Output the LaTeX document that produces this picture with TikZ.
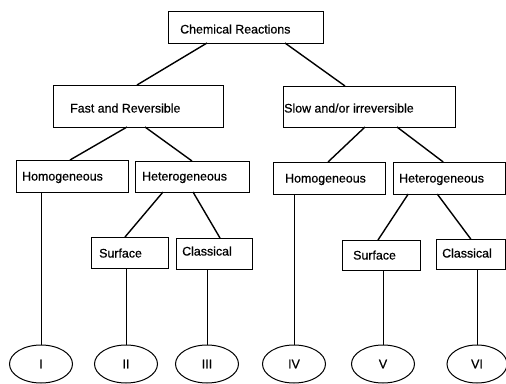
\documentclass[tikz,border=0pt]{standalone}
\usepackage{fontspec}
\setmainfont{Liberation Sans}[FakeBold=0.6]
\usetikzlibrary{shapes.geometric}
\begin{document}
\begin{tikzpicture}[x=1pt,y=-1pt,
  font=\fontsize{12.4}{14}\selectfont,
  boxn/.style={draw, line width=1pt, rectangle, inner sep=0pt, outer sep=0pt},
  lbl/.style={anchor=base west, inner sep=0pt},
  ell/.style={draw, line width=1pt, ellipse, inner sep=0pt, outer sep=0pt, minimum width=63pt, minimum height=38pt},
  conn/.style={line width=1.4pt},
  vline/.style={line width=1pt}]
\useasboundingbox (0,0) rectangle (506,383);
% boxes
\node[boxn, minimum width=155pt, minimum height=32pt] (chem) at (245.5,27) {};
\node[boxn, minimum width=170pt, minimum height=42pt] (fast) at (138,106) {};
\node[boxn, minimum width=172pt, minimum height=41pt] (slow) at (369,106.5) {};
\node[boxn, minimum width=112pt, minimum height=32pt] (homL) at (72,176) {};
\node[boxn, minimum width=114pt, minimum height=31pt] (hetL) at (192,176.5) {};
\node[boxn, minimum width=112pt, minimum height=32pt] (homR) at (329,178) {};
\node[boxn, minimum width=112.5pt, minimum height=32pt] (hetR) at (449.25,178) {};
\node[boxn, minimum width=77pt, minimum height=31pt] (surfL) at (129.5,252.5) {};
\node[boxn, minimum width=76pt, minimum height=31pt] (clasL) at (214,253.5) {};
\node[boxn, minimum width=78pt, minimum height=30pt] (surfR) at (381,255) {};
\node[boxn, minimum width=69.5pt, minimum height=30pt] (clasR) at (470.75,254) {};
% labels
\node[lbl] (tchem) at (180,33.5) {Chemical Reactions};
\node[lbl] (tfast) at (70,112.5) {Fast and Reversible};
\node[lbl] (tslow) at (284,112.5) {Slow and/or irreversible};
\node[lbl] (thomL) at (22,180.5) {Homogeneous};
\node[lbl] (thetL) at (142,180.5) {Heterogeneous};
\node[lbl] (thomR) at (285,182.5) {Homogeneous};
\node[lbl] (thetR) at (399,182.5) {Heterogeneous};
\node[lbl] (tsurfL) at (99,257.5) {Surface};
\node[lbl] (tclasL) at (182,255.5) {Classical};
\node[lbl] (tsurfR) at (353,259.5) {Surface};
\node[lbl] (tclasR) at (442,257.5) {Classical};
% ellipses
\node[ell] (e1) at (41,364) {I};
\node[ell] (e2) at (126,364) {II};
\node[ell] (e3) at (207,364) {III};
\node[ell] (e4) at (294,364) {IV};
\node[ell] (e5) at (383,364) {V};
\node[ell, minimum width=60pt] (e6) at (477,364) {VI};
% connectors
\draw[conn] ([xshift=-38.5pt]chem.south) -- ([xshift=-1pt]fast.north);
\draw[conn] ([xshift=39.5pt]chem.south) -- ([xshift=-24pt]slow.north);
\draw[conn] ([xshift=-11pt]fast.south) -- ([xshift=-2pt]homL.north);
\draw[conn] ([xshift=7pt]fast.south) -- (hetL.north);
\draw[conn] ([xshift=-4pt]slow.south) -- ([xshift=-1pt]homR.north);
\draw[conn] ([xshift=28pt]slow.south) -- ([xshift=-6pt]hetR.north);
\draw[conn] ([xshift=-29pt]hetL.south) -- ([xshift=-4.5pt]surfL.north);
\draw[conn] ([xshift=1pt]hetL.south) -- ([xshift=6pt]clasL.north);
\draw[conn] ([xshift=-41pt]hetR.south) -- ([xshift=-3pt]surfR.north);
\draw[conn] ([xshift=-12pt]hetR.south) -- (clasR.north);
% verticals
\draw[vline] (e1.north |- homL.south) -- (e1.north);
\draw[vline] (e2.north |- surfL.south) -- (e2.north);
\draw[vline] (e3.north |- clasL.south) -- (e3.north);
\draw[vline] (e4.north |- homR.south) -- (e4.north);
\draw[vline] (e5.north |- surfR.south) -- (e5.north);
\draw[vline] (e6.north |- clasR.south) -- (e6.north);
\end{tikzpicture}
\end{document}
